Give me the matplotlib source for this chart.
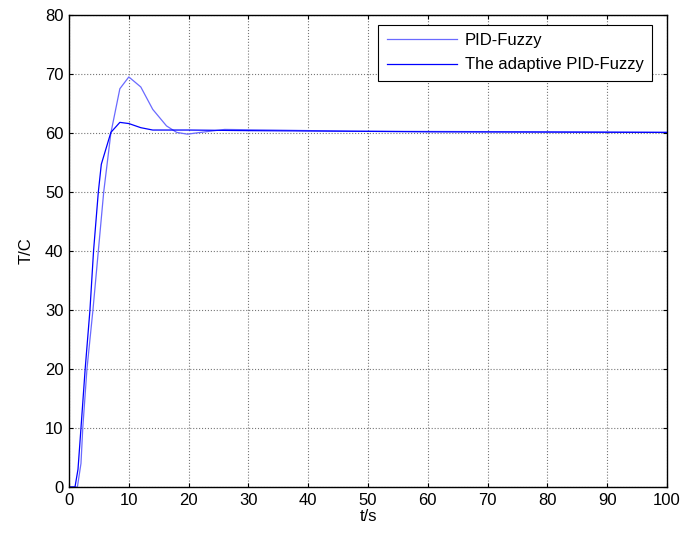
import matplotlib
matplotlib.use("Agg")
import matplotlib.pyplot as plt

plt.rcParams['font.family'] = ['Liberation Sans', 'DejaVu Sans']

# PID-Fuzzy (lighter line)
t_pid = [0, 1.4, 2, 2.3, 3.0, 4.0, 4.9, 5.8, 7, 8.5, 10, 12, 14, 16.3, 18, 19.8, 22, 26, 34, 47, 80, 100]
y_pid = [0, 0, 4, 10, 20, 30, 40, 50, 60, 67.5, 69.5, 67.8, 64, 61.2, 60.1, 59.8, 60.1, 60.6, 60.5, 60.3, 60.2, 60.1]

# adaptive PID-Fuzzy (darker line)
t_ad = [0, 1, 1.5, 2, 2.7, 3.5, 4.1, 4.9, 5.4, 7, 8.5, 10, 12, 14, 20, 30, 47, 60, 100]
y_ad = [0, 0, 3, 10, 20, 30, 40, 50, 54.7, 60.1, 61.8, 61.6, 60.9, 60.5, 60.5, 60.4, 60.3, 60.2, 60.1]

fig = plt.figure(figsize=(6.8, 5.35), dpi=100)
ax = fig.add_axes([0.1015, 0.0897, 0.8795, 0.8823])

ax.plot(t_pid, y_pid, color='#6a6aff', lw=0.9, label='PID-Fuzzy')
ax.plot(t_ad, y_ad, color='#0000ff', lw=0.9, label='The adaptive PID-Fuzzy')

ax.set_xlim(0, 100)
ax.set_ylim(0, 80)
ax.set_xticks(range(0, 101, 10))
ax.set_yticks(range(0, 81, 10))
ax.tick_params(direction='in', top=True, right=True, labelsize=12, length=3, pad=4)
ax.grid(True, linestyle=':', color='#777777', lw=0.8)
for s in ax.spines.values():
    s.set_linewidth(1.0)

ax.set_xlabel('t/s', fontsize=12, labelpad=1)
ax.set_ylabel('T/C', fontsize=12, labelpad=8)

leg = ax.legend(loc='upper right', bbox_to_anchor=(0.975, 0.979), fontsize=12,
                handlelength=4.2, fancybox=False, edgecolor='black', framealpha=1,
                borderaxespad=0, borderpad=0.5, labelspacing=0.55, handletextpad=0.5)
leg.get_frame().set_linewidth(0.8)

fig.savefig('out.png', dpi=100)
